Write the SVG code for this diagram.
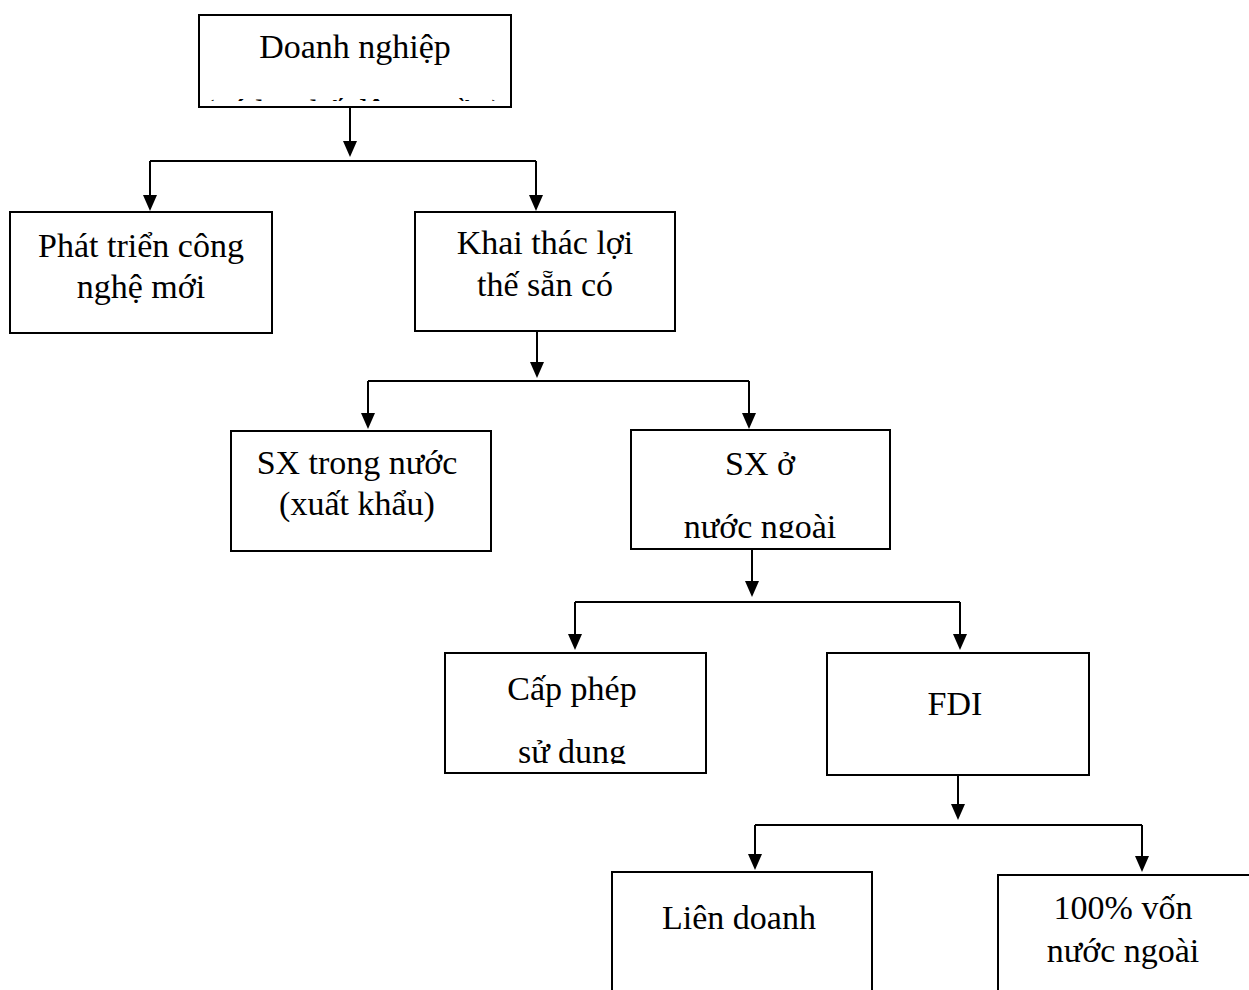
<svg xmlns="http://www.w3.org/2000/svg" width="1249" height="990" viewBox="0 0 1249 990">
<style>
.box{fill:#fff;stroke:#000;stroke-width:2}
.t{font-family:"Liberation Serif","Times New Roman",serif;font-size:34px;fill:#000;text-anchor:middle}
.c{fill:none;stroke:#000;stroke-width:2}
</style>
<defs>
<clipPath id="cp1"><rect x="199" y="15" width="312" height="86"/></clipPath>
<clipPath id="cp6"><rect x="631" y="430" width="259" height="108"/></clipPath>
<clipPath id="cp7"><rect x="445" y="653" width="261" height="111"/></clipPath>
</defs>
<g id="connectors">
<path class="c" d="M350,107 V143"/>
<path d="M343,141 L357,141 L350,157 Z"/>
<path class="c" d="M150,161 H536"/>
<path class="c" d="M150,161 V197"/><path d="M143,195 L157,195 L150,211 Z"/>
<path class="c" d="M536,161 V197"/><path d="M529,195 L543,195 L536,211 Z"/>
<path class="c" d="M537,331 V364"/><path d="M530,362 L544,362 L537,378 Z"/>
<path class="c" d="M368,381 V415"/><path d="M361,413 L375,413 L368,429 Z"/>
<path class="c" d="M368,381 H749"/>
<path class="c" d="M749,381 V415"/><path d="M742,413 L756,413 L749,429 Z"/>
<path class="c" d="M752,549 V583"/><path d="M745,581 L759,581 L752,597 Z"/>
<path class="c" d="M575,602 H960"/>
<path class="c" d="M575,602 V636"/><path d="M568,634 L582,634 L575,650 Z"/>
<path class="c" d="M960,602 V636"/><path d="M953,634 L967,634 L960,650 Z"/>
<path class="c" d="M958,775 V806"/><path d="M951,804 L965,804 L958,820 Z"/>
<path class="c" d="M755,825 H1142"/>
<path class="c" d="M755,825 V856"/><path d="M748,854 L762,854 L755,870 Z"/>
<path class="c" d="M1142,825 V858"/><path d="M1135,856 L1149,856 L1142,872 Z"/>
</g>
<g id="n1">
<rect class="box" x="199" y="15" width="312" height="92"/>
<g clip-path="url(#cp1)">
<text class="t" x="355" y="58">Doanh nghiệp</text>
<text class="t" x="353" y="123">(có lợi thế độc quyền)</text>
</g>
</g>
<g id="n2">
<rect class="box" x="10" y="212" width="262" height="121"/>
<text class="t" x="141" y="257">Phát triển công</text>
<text class="t" x="141" y="298">nghệ mới</text>
</g>
<g id="n3">
<rect class="box" x="415" y="212" width="260" height="119"/>
<text class="t" x="545" y="254">Khai thác lợi</text>
<text class="t" x="545" y="296">thế sẵn có</text>
</g>
<g id="n4">
<rect class="box" x="231" y="431" width="260" height="120"/>
<text class="t" x="357" y="474">SX trong nước</text>
<text class="t" x="357" y="515">(xuất khẩu)</text>
</g>
<g id="n5">
<rect class="box" x="631" y="430" width="259" height="119"/>
<g clip-path="url(#cp6)">
<text class="t" x="760" y="475">SX ở</text>
<text class="t" x="760" y="538">nước ngoài</text>
</g>
</g>
<g id="n6">
<rect class="box" x="445" y="653" width="261" height="120"/>
<g clip-path="url(#cp7)">
<text class="t" x="572" y="700">Cấp phép</text>
<text class="t" x="572" y="763">sử dụng</text>
</g>
</g>
<g id="n7">
<rect class="box" x="827" y="653" width="262" height="122"/>
<text class="t" x="955" y="715">FDI</text>
</g>
<g id="n8">
<rect class="box" x="612" y="872" width="260" height="130"/>
<text class="t" x="739" y="929">Liên doanh</text>
</g>
<g id="n9">
<rect class="box" x="998" y="875" width="270" height="130"/>
<text class="t" x="1123" y="919">100% vốn</text>
<text class="t" x="1123" y="962">nước ngoài</text>
</g>
</svg>
